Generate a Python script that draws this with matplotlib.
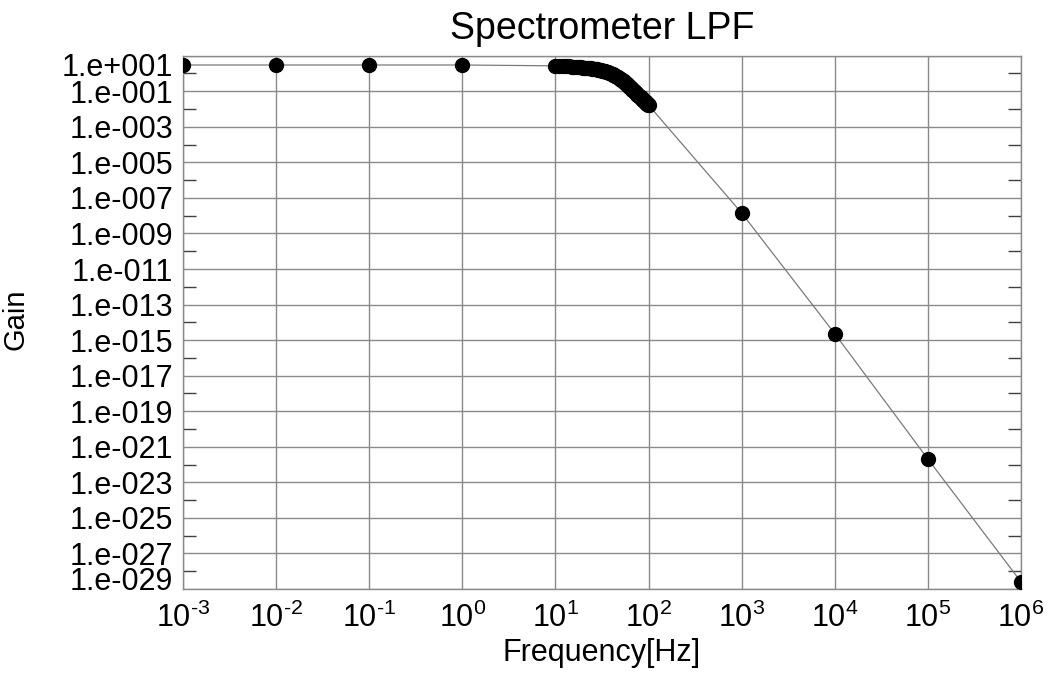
import numpy as np
import matplotlib
matplotlib.use('Agg')
import matplotlib.pyplot as plt
from matplotlib.ticker import FixedLocator, NullLocator
from matplotlib.transforms import ScaledTranslation

plt.rcParams['font.family'] = 'Liberation Sans'
plt.rcParams['mathtext.default'] = 'regular'

# Frequency points [Hz]: decades below the passband, 1 Hz steps from 10 to 100, decades above
freq_low = [1e-3, 1e-2, 1e-1, 1e0]
freq_band = list(range(10, 101))
freq_high = [1e3, 1e4, 1e5, 1e6]

# log10 of the gain at each frequency
gain_low_log = [0.477, 0.477, 0.477, 0.477]
gain_band_log = [
    0.430, 0.423, 0.416, 0.407, 0.399, 0.390, 0.380, 0.369, 0.357, 0.344,   # 10-19
    0.330, 0.319, 0.307, 0.295, 0.283, 0.270, 0.257, 0.243, 0.229, 0.214,   # 20-29
    0.199, 0.181, 0.162, 0.142, 0.121, 0.100, 0.078, 0.056, 0.034, 0.012,   # 30-39
    -0.010, -0.037, -0.065, -0.094, -0.125, -0.157, -0.190, -0.224, -0.258, -0.293,  # 40-49
    -0.329, -0.360, -0.390, -0.420, -0.450, -0.482, -0.521, -0.560, -0.597, -0.635,  # 50-59
    -0.671, -0.707, -0.742, -0.777, -0.811, -0.845, -0.878, -0.911, -0.943, -0.974,  # 60-69
    -1.006, -1.037, -1.067, -1.097, -1.126, -1.156, -1.184, -1.213, -1.241, -1.268,  # 70-79
    -1.296, -1.323, -1.349, -1.376, -1.402, -1.427, -1.453, -1.478, -1.503, -1.527,  # 80-89
    -1.551, -1.575, -1.599, -1.623, -1.646, -1.669, -1.692, -1.714, -1.736, -1.758,  # 90-99
    -1.780,                                                                 # 100
]
gain_high_log = [-7.85, -14.64, -21.69, -28.60]

# y axis decades: labelled every two decades, short ticks in between
y_label_exp = list(range(-29, 2, 2))
y_minor_exp = list(range(-28, 1, 2))
x_tick_exp = list(range(-3, 7))

freq = np.array(freq_low + freq_band + freq_high, dtype=float)
gain = 10.0 ** np.array(gain_low_log + gain_band_log + gain_high_log)

fig = plt.figure(figsize=(10.48, 6.74), dpi=100)
W, H = 1048, 674
ax = fig.add_axes([183 / W, 1 - 589 / H, (1021 - 183) / W, (589 - 55.7) / H])

ax.set_xscale('log')
ax.set_yscale('log')

ax.plot(freq, gain, color='#7a7a7a', lw=0.9, zorder=3)
ax.plot(freq, gain, 'o', color='black', ms=10, zorder=4)

ax.set_xlim(1e-3, 1e6)
ax.set_ylim(1e-29, 1e1)

# x axis: one gridline per decade, exponent written with a plain hyphen
ax.xaxis.set_major_locator(FixedLocator([10.0 ** e for e in x_tick_exp]))
ax.xaxis.set_minor_locator(NullLocator())
ax.set_xticklabels([r'$10^{%s}$' % str(e).replace('-', '\u2010') for e in x_tick_exp])

# y axis
ax.yaxis.set_major_locator(FixedLocator([10.0 ** e for e in y_label_exp]))
ax.yaxis.set_minor_locator(FixedLocator([10.0 ** e for e in y_minor_exp]))
ax.set_yticklabels(['1.e%+04d' % e for e in y_label_exp])
ax.yaxis.set_minor_formatter(plt.NullFormatter())

ax.tick_params(axis='both', which='major', length=0, labelsize=22)
ax.tick_params(axis='x', which='major', pad=10)
ax.tick_params(axis='y', which='major', pad=7)
ax.tick_params(axis='y', which='minor', direction='in', length=9.4, width=1,
               color='#404040', left=True, right=True)

ax.grid(True, which='major', color='#8a8a8a', lw=1.0)
ax.set_axisbelow(True)
for sp in ax.spines.values():
    sp.set_color('#8a8a8a')
    sp.set_linewidth(1.0)

# keep the end labels of the y axis inside the frame
ylabels = ax.get_yticklabels()
ylabels[0].set_transform(ylabels[0].get_transform() + ScaledTranslation(0, 10 / 100, fig.dpi_scale_trans))
ylabels[-1].set_transform(ylabels[-1].get_transform() + ScaledTranslation(0, -8.6 / 100, fig.dpi_scale_trans))

ax.set_title('Spectrometer LPF', fontsize=27, pad=12)
ax.set_xlabel('Frequency[Hz]', fontsize=22, labelpad=3)
ax.set_ylabel('Gain', fontsize=21)
ax.yaxis.set_label_coords((30 - 183) / (1021 - 183), 0.505)

fig.savefig('out.png', dpi=100)
